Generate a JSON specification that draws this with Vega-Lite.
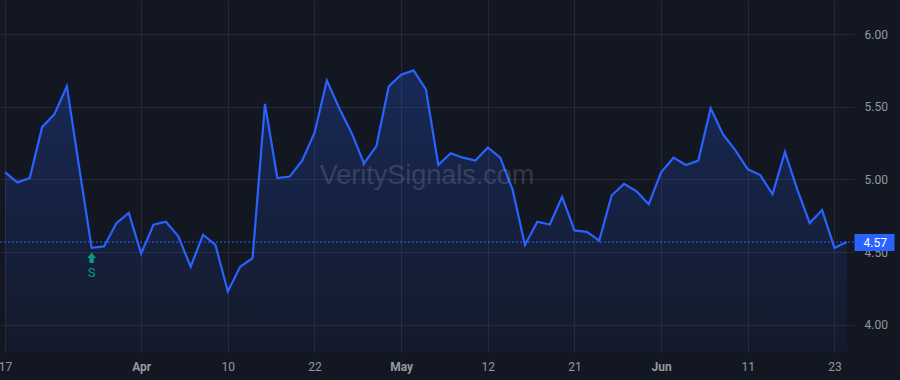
{
  "$schema": "https://vega.github.io/schema/vega-lite/v6.json",
  "width": 854,
  "height": 352,
  "autosize": {"type": "none"},
  "padding": {"left": 0, "top": 0, "right": 46, "bottom": 28},
  "background": "#131722",
  "config": {
    "view": {"fill": "#141823", "stroke": null},
    "font": "Roboto"
  },
  "data": {
    "values": [
      {"date": "2025-03-17", "close": 5.05},
      {"date": "2025-03-18", "close": 4.98},
      {"date": "2025-03-19", "close": 5.01},
      {"date": "2025-03-20", "close": 5.36},
      {"date": "2025-03-21", "close": 5.45},
      {"date": "2025-03-24", "close": 5.64},
      {"date": "2025-03-25", "close": 5.08},
      {"date": "2025-03-26", "close": 4.53, "signal": "S"},
      {"date": "2025-03-27", "close": 4.54},
      {"date": "2025-03-28", "close": 4.70},
      {"date": "2025-03-31", "close": 4.77},
      {"date": "2025-04-01", "close": 4.49},
      {"date": "2025-04-02", "close": 4.69},
      {"date": "2025-04-03", "close": 4.71},
      {"date": "2025-04-04", "close": 4.61},
      {"date": "2025-04-07", "close": 4.40},
      {"date": "2025-04-08", "close": 4.62},
      {"date": "2025-04-09", "close": 4.55},
      {"date": "2025-04-10", "close": 4.23},
      {"date": "2025-04-11", "close": 4.40},
      {"date": "2025-04-14", "close": 4.46},
      {"date": "2025-04-15", "close": 5.52},
      {"date": "2025-04-16", "close": 5.01},
      {"date": "2025-04-17", "close": 5.02},
      {"date": "2025-04-21", "close": 5.13},
      {"date": "2025-04-22", "close": 5.32},
      {"date": "2025-04-23", "close": 5.68},
      {"date": "2025-04-24", "close": 5.49},
      {"date": "2025-04-25", "close": 5.32},
      {"date": "2025-04-28", "close": 5.11},
      {"date": "2025-04-29", "close": 5.23},
      {"date": "2025-04-30", "close": 5.64},
      {"date": "2025-05-01", "close": 5.72},
      {"date": "2025-05-02", "close": 5.75},
      {"date": "2025-05-05", "close": 5.62},
      {"date": "2025-05-06", "close": 5.10},
      {"date": "2025-05-07", "close": 5.18},
      {"date": "2025-05-08", "close": 5.15},
      {"date": "2025-05-09", "close": 5.13},
      {"date": "2025-05-12", "close": 5.22},
      {"date": "2025-05-13", "close": 5.15},
      {"date": "2025-05-14", "close": 4.93},
      {"date": "2025-05-15", "close": 4.55},
      {"date": "2025-05-16", "close": 4.71},
      {"date": "2025-05-19", "close": 4.69},
      {"date": "2025-05-20", "close": 4.88},
      {"date": "2025-05-21", "close": 4.65},
      {"date": "2025-05-22", "close": 4.64},
      {"date": "2025-05-23", "close": 4.58},
      {"date": "2025-05-27", "close": 4.89},
      {"date": "2025-05-28", "close": 4.97},
      {"date": "2025-05-29", "close": 4.92},
      {"date": "2025-05-30", "close": 4.83},
      {"date": "2025-06-02", "close": 5.05},
      {"date": "2025-06-03", "close": 5.15},
      {"date": "2025-06-04", "close": 5.10},
      {"date": "2025-06-05", "close": 5.13},
      {"date": "2025-06-06", "close": 5.49},
      {"date": "2025-06-09", "close": 5.31},
      {"date": "2025-06-10", "close": 5.20},
      {"date": "2025-06-11", "close": 5.07},
      {"date": "2025-06-12", "close": 5.03},
      {"date": "2025-06-13", "close": 4.90},
      {"date": "2025-06-16", "close": 5.19},
      {"date": "2025-06-17", "close": 4.93},
      {"date": "2025-06-18", "close": 4.70},
      {"date": "2025-06-20", "close": 4.79},
      {"date": "2025-06-23", "close": 4.53},
      {"date": "2025-06-24", "close": 4.57}
    ]
  },
  "layer": [
    {
      "encoding": {
        "x": {
          "field": "date",
          "type": "ordinal",
          "scale": {"type": "point", "padding": 0.49, "align": 0.41},
          "axis": {
            "values": ["2025-03-17", "2025-04-01", "2025-04-10", "2025-04-22", "2025-05-01", "2025-05-12", "2025-05-21", "2025-06-02", "2025-06-11", "2025-06-23"],
            "labelExpr": "datum.value == '2025-04-01' ? 'Apr' : datum.value == '2025-05-01' ? 'May' : datum.value == '2025-06-02' ? 'Jun' : '' + toNumber(slice(datum.value, 8))",
            "labelFontWeight": {"condition": {"test": "datum.value == '2025-04-01' || datum.value == '2025-05-01' || datum.value == '2025-06-02'", "value": "bold"}, "value": "normal"},
            "title": null,
            "domain": false,
            "ticks": false,
            "grid": true,
            "gridColor": "#252935",
            "labelColor": "#9598a1",
            "labelFontSize": 12,
            "labelPadding": 9,
            "labelAngle": 0
          }
        }
      },
      "resolve": {"axis": {"y": "independent"}},
      "layer": [
        {
          "mark": {
            "type": "area",
            "fill": {
              "gradient": "linear",
              "x1": 0, "y1": 0, "x2": 0, "y2": 1,
              "stops": [
                {"offset": 0, "color": "rgba(41,98,255,0.24)"},
                {"offset": 1, "color": "rgba(41,98,255,0.04)"}
              ]
            }
          },
          "encoding": {
            "y": {
              "field": "close",
              "type": "quantitative",
              "scale": {"domain": [3.814, 6.234], "nice": false, "zero": false},
              "axis": {
                "orient": "right",
                "values": [4, 4.5, 5, 5.5, 6],
                "format": ".2f",
                "title": null,
                "domain": false,
                "ticks": false,
                "grid": true,
                "gridColor": "#252935",
                "labelColor": "#9598a1",
                "labelFontSize": 12,
                "labelPadding": 10
              }
            },
            "y2": {"datum": 3.814}
          }
        },
        {
          "mark": {"type": "line", "color": "#2962ff", "strokeWidth": 2.2},
          "encoding": {
            "y": {"field": "close", "type": "quantitative", "axis": null}
          }
        },
        {
          "transform": [{"filter": "datum.date == '2025-06-24'"}],
          "mark": {"type": "rule", "color": "#2962ff", "strokeWidth": 1, "strokeDash": [2, 2]},
          "encoding": {
            "y": {
              "field": "close",
              "type": "quantitative",
              "axis": {
                "orient": "right",
                "values": [4.57],
                "format": ".2f",
                "title": null,
                "domain": false,
                "grid": false,
                "ticks": true,
                "tickSize": 40,
                "tickWidth": 17,
                "tickColor": "#2962ff",
                "labelColor": "#ffffff",
                "labelFontSize": 12,
                "labelPadding": -31,
                "zindex": 1
              }
            },
            "x": null
          }
        },
        {
          "transform": [{"filter": "datum.signal == 'S'"}],
          "mark": {"type": "point", "shape": "M0,-1L0.85,0.05H0.42V1H-0.42V0.05H-0.85Z", "filled": true, "color": "#089981", "opacity": 1, "size": 110, "yOffset": 10},
          "encoding": {
            "y": {"field": "close", "type": "quantitative", "axis": null}
          }
        },
        {
          "transform": [{"filter": "datum.signal == 'S'"}],
          "mark": {"type": "text", "color": "#089981", "fontSize": 13, "baseline": "middle", "align": "center", "yOffset": 25},
          "encoding": {
            "y": {"field": "close", "type": "quantitative", "axis": null},
            "text": {"field": "signal"}
          }
        }
      ]
    },
    {
      "data": {"values": [{"label": "VeritySignals.com"}]},
      "mark": {
        "type": "text",
        "x": {"expr": "width/2"},
        "y": {"expr": "height/2"},
        "font": "Liberation Sans",
        "fontSize": 27,
        "fill": "#b2b5be",
        "opacity": 0.2,
        "align": "center",
        "baseline": "middle"
      },
      "encoding": {"text": {"field": "label"}}
    }
  ]
}
